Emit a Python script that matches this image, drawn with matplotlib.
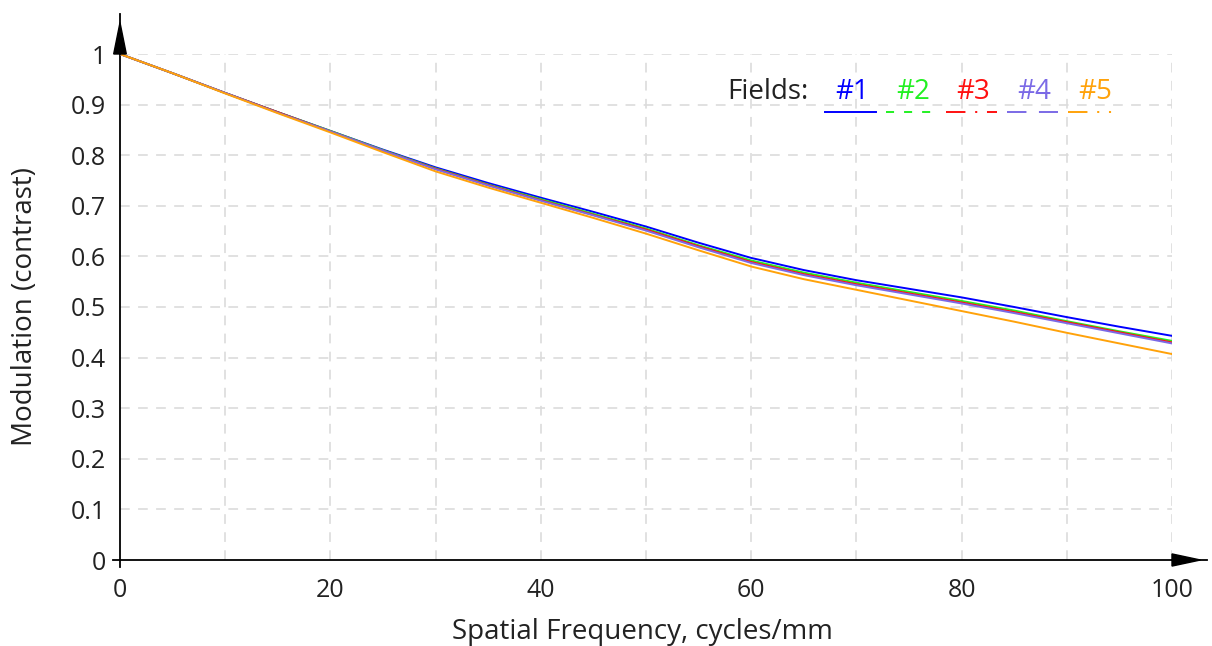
import matplotlib
matplotlib.use("Agg")
import matplotlib.pyplot as plt
from matplotlib.lines import Line2D
from matplotlib.ticker import FuncFormatter

plt.rcParams['font.family'] = ['Open Sans', 'DejaVu Sans']
plt.rcParams['lines.scale_dashes'] = False

# Data
freq = [0, 5, 10, 15, 20, 25, 30, 35, 40, 45, 50, 55, 60, 65, 70, 75, 80, 85, 90, 95, 100]
field1 = [1.000, 0.962, 0.923, 0.885, 0.848, 0.811, 0.776, 0.745, 0.716, 0.688, 0.659, 0.627, 0.597, 0.573, 0.553, 0.536, 0.519, 0.500, 0.480, 0.461, 0.443]
field2 = [1.000, 0.962, 0.923, 0.885, 0.848, 0.810, 0.774, 0.742, 0.713, 0.684, 0.655, 0.622, 0.592, 0.568, 0.548, 0.530, 0.512, 0.493, 0.472, 0.452, 0.433]
field3 = [1.000, 0.962, 0.923, 0.885, 0.847, 0.809, 0.773, 0.741, 0.711, 0.682, 0.653, 0.620, 0.589, 0.565, 0.545, 0.527, 0.509, 0.490, 0.470, 0.450, 0.430]
field4 = [1.000, 0.962, 0.923, 0.884, 0.847, 0.809, 0.772, 0.740, 0.710, 0.681, 0.651, 0.618, 0.587, 0.563, 0.543, 0.525, 0.507, 0.488, 0.468, 0.448, 0.428]
field5 = [1.000, 0.962, 0.922, 0.883, 0.845, 0.806, 0.768, 0.736, 0.706, 0.676, 0.645, 0.612, 0.580, 0.555, 0.534, 0.513, 0.492, 0.471, 0.449, 0.428, 0.407]
field_labels = ['#1', '#2', '#3', '#4', '#5']
x_ticks = [0, 20, 40, 60, 80, 100]
y_ticks = [0, 0.1, 0.2, 0.3, 0.4, 0.5, 0.6, 0.7, 0.8, 0.9, 1.0]

colors = ['#0000FF', '#22F022', '#FF1010', '#7B6AE6', '#FFA20A']
styles = ['-', (0, (5.8, 7.2)), (0, (14, 7, 1.5, 7)), (0, (14, 9)), (0, (14, 7, 1.5, 7, 1.5, 7))]
series = [field1, field2, field3, field4, field5]

FS_TICK = 18
FS_LAB = 20
TXT = '#222222'

fig = plt.figure(figsize=(12.12, 6.46), dpi=100)
ax = fig.add_axes([120/1212, 86/646, 1052/1212, 506/646])

# grid
for gx in range(10, 101, 10):
    ax.axvline(gx, color='#DCDCDC', lw=1.2, ls=(0, (7, 6)), zorder=0)
for gy in y_ticks[1:]:
    ax.axhline(gy, color='#DCDCDC', lw=1.2, ls=(0, (7, 6)), zorder=0)

for s, c in zip(series, colors):
    ax.plot(freq, s, color=c, lw=1.4, ls='-', zorder=3)

ax.set_xlim(0, 100)
ax.set_ylim(0, 1.0)
ax.set_xticks(x_ticks)
ax.set_yticks(y_ticks)
ax.yaxis.set_major_formatter(FuncFormatter(lambda v, p: '%g' % round(v, 2)))
ax.tick_params(length=0, labelsize=FS_TICK, labelcolor=TXT)
ax.tick_params(axis='y', pad=10)
ax.tick_params(axis='x', pad=13)
for sp in ['top', 'right']:
    ax.spines[sp].set_visible(False)
for sp in ['left', 'bottom']:
    ax.spines[sp].set_linewidth(1.3)
    ax.spines[sp].set_color('black')

fig.text(642/1212, 1 - 632/646, 'Spatial Frequency, cycles/mm', fontsize=FS_LAB, color=TXT,
         ha='center', va='center')
fig.text(25/1212, 1 - 307/646, 'Modulation (contrast)', fontsize=FS_LAB, color=TXT,
         ha='center', va='center', rotation=90)

# axis arrows (decoration)
ax.plot([0, 0], [1.0, 1.08], color='black', lw=1.3, clip_on=False, zorder=5)
ax.fill([-0.6, 0.6, 0], [1.0, 1.0, 1.062], color='black', clip_on=False, zorder=5)
ax.plot([100, 103.3], [0, 0], color='black', lw=1.3, clip_on=False, zorder=5)
ax.fill([100, 100, 102.7], [-0.012, 0.012, 0], color='black', clip_on=False, zorder=5)
# origin tick cross
ax.plot([-0.7, 0], [0, 0], color='black', lw=1.3, clip_on=False)
ax.plot([0, 0], [-0.014, 0], color='black', lw=1.3, clip_on=False)

# custom legend
def px2ax(px, py):
    return (px - 120) / 1052, (560 - py) / 506

tx, ty = px2ax(808, 92)
ax.text(tx, ty, 'Fields:', transform=ax.transAxes, ha='right', va='center', fontsize=FS_LAB, color=TXT)
starts = [825, 886, 946, 1007, 1068]
for i, (lab, c, st) in enumerate(zip(field_labels, colors, styles)):
    x0 = starts[i]
    x1 = x0 + 51
    a0, ay = px2ax(x0, 112)
    a1, _ = px2ax(x1, 112)
    ax.add_line(Line2D([a0, a1], [ay, ay], transform=ax.transAxes, color=c, lw=1.4, ls=st, clip_on=False))
    cx, cy = px2ax((x0 + x1) / 2 + 2, 92)
    ax.text(cx, cy, lab, transform=ax.transAxes, ha='center', va='center', fontsize=FS_LAB, color=c)

fig.savefig('out.png', dpi=100, facecolor='white')
